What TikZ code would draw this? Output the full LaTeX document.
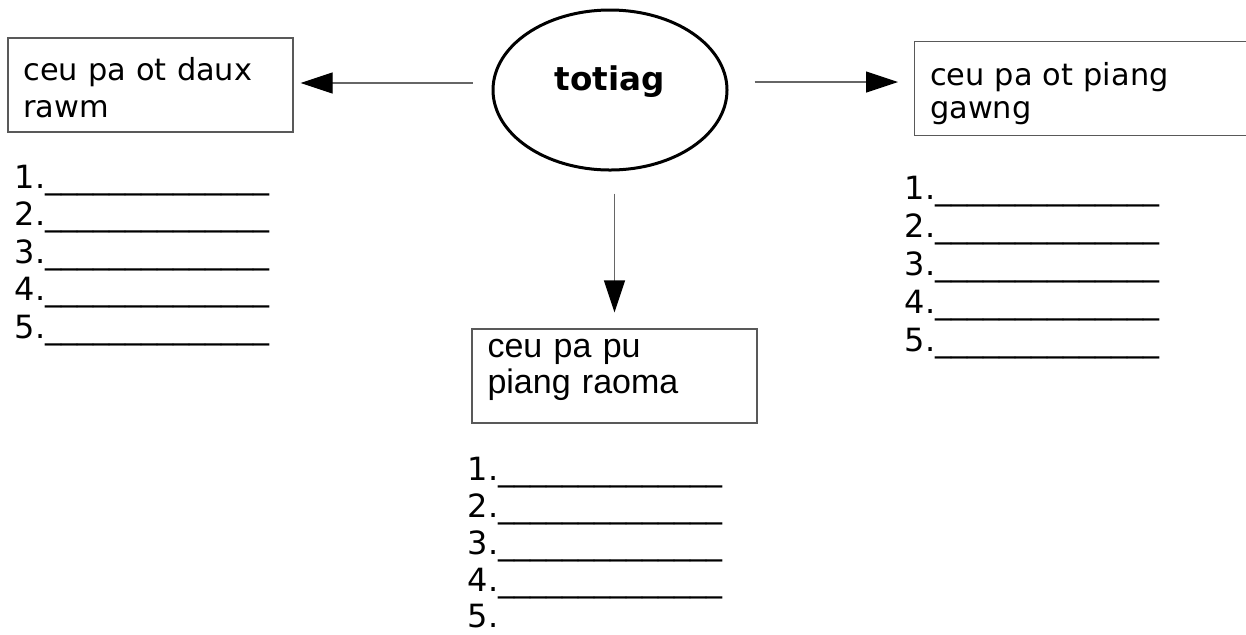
\documentclass[tikz,border=0pt]{standalone}
\usepackage{fontspec}
\setmainfont{DejaVu Sans}
\newfontfamily\arialfont{Liberation Sans}
\usetikzlibrary{shapes.geometric,arrows.meta}

\newcommand{\fillin}{\_\_\_\_\_\_\_\_\_\_\_\_\_\_}

\tikzset{
  box/.style={draw=black!65, line width=0.6pt, rectangle, align=left,
    inner xsep=7.75pt, inner ysep=0pt, minimum height=47pt,
    text width=127pt, text height=0pt},
  item/.style={inner sep=0pt, anchor=base west,
    font=\fontsize{16pt}{18.75pt}\selectfont},
  arr/.style={draw=black!60, line width=0.6pt,
    -{Triangle[length=16pt,width=10.5pt,color=black]}},
}

\begin{document}
\begin{tikzpicture}[x=0.5pt,y=-0.5pt]
\useasboundingbox (0,0) rectangle (1246,634);
% the topic in the middle
\node[ellipse, draw, line width=1.5pt, minimum width=117pt,
  minimum height=80pt, inner sep=0pt,
  font=\bfseries\fontsize{16.3pt}{18pt}\selectfont,
  text height=8pt, text depth=8pt] (totiag) at (610,90) {totiag};
% the three boxes round it
\node[box, text depth=5pt, font=\fontsize{15.2pt}{18.5pt}\selectfont]
  (daux) at (150.5,85) {ceu pa ot daux\\rawm};
\node[box, anchor=west, text width=160pt, text depth=3.5pt,
  font=\fontsize{15.2pt}{16.75pt}\selectfont]
  (gawng) at (914,88.5) {ceu pa ot piang\\gawng};
\node[box, text depth=19pt, font=\arialfont\fontsize{17pt}{18.25pt}\selectfont]
  (raoma) at (614.5,376) {ceu pa pu\\piang raoma};
% arrows from the topic
\draw[arr, shorten <=9.5pt, shorten >=3.5pt]
  ([yshift=3.5pt]totiag.west) -- ([yshift=3.5pt]totiag.west -| daux.east);
\draw[arr, shorten <=13pt, shorten >=8pt]
  ([yshift=4pt]totiag.east) -- ([yshift=4pt]totiag.east -| gawng.west);
\draw[arr, shorten <=11pt, shorten >=8pt]
  (totiag.south -| raoma.north) -- (raoma.north);
% the lists under each box
\foreach \i in {1,...,5}
  \node[item] (daux\i) at (14.5,{188+37.5*(\i-1)}) {\i.\fillin};
\foreach \i in {1,...,5}
  \node[item] (gawng\i) at (904.5,{199+38*(\i-1)}) {\i.\fillin};
\foreach \i in {1,...,4}
  \node[item] (raoma\i) at (467.5,{480+37*(\i-1)}) {\i.\fillin};
\node[item] (raoma5) at (467.5,627) {5.};
\end{tikzpicture}
\end{document}
